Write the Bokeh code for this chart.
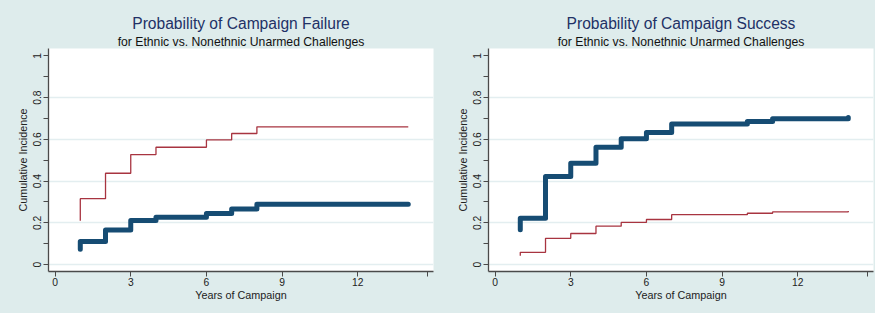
from bokeh.plotting import figure
from bokeh.layouts import row
from bokeh.models import FixedTicker, Title, Range1d
from bokeh.embed import file_html
from bokeh.resources import INLINE

# ---- data ----
years = [1, 1, 2, 3, 4, 5, 6, 7, 8, 9, 10, 11, 12, 13, 14]

failure_ethnic = [0.21, 0.316, 0.4375, 0.527, 0.562, 0.562, 0.597, 0.628, 0.660,
                  0.660, 0.660, 0.660, 0.660, 0.660, 0.660]
failure_nonethnic = [0.073, 0.111, 0.166, 0.211, 0.227, 0.227, 0.245, 0.266, 0.289,
                     0.289, 0.289, 0.289, 0.289, 0.289, 0.289]

success_ethnic = [0.043, 0.059, 0.126, 0.149, 0.184, 0.202, 0.216, 0.239, 0.239,
                  0.239, 0.246, 0.2525, 0.2525, 0.2525, 0.257]
success_nonethnic = [0.167, 0.222, 0.4225, 0.486, 0.562, 0.603, 0.633, 0.673, 0.673,
                     0.673, 0.685, 0.699, 0.699, 0.699, 0.705]

titles = ["Probability of Campaign Failure", "Probability of Campaign Success"]
subtitle = "for Ethnic vs. Nonethnic Unarmed Challenges"
x_label = "Years of Campaign"
y_label = "Cumulative Incidence"

x_ticks = [0, 3, 6, 9, 12, 14.75]
x_tick_labels = ["0", "3", "6", "9", "12", ""]
y_ticks = [0, 0.2, 0.4, 0.6, 0.8, 1]
y_minor = [0.1, 0.3, 0.5, 0.7, 0.9]
y_tick_labels = ["0", "0.2", "0.4", "0.6", "0.8", "1"]
grid_ticks = [0, 0.2, 0.4, 0.6, 0.8]

BG = "#deecec"
BLUE = "#164c73"
RED = "#a83440"
FONT = "Liberation Sans"
AX = "#4a4a4a"


def panel(title, red, blue, border_left, border_right):
    p = figure(frame_width=385, frame_height=223,
               min_border_left=border_left, min_border_right=border_right,
               min_border_top=48, min_border_bottom=42,
               x_range=Range1d(-0.26, 15.0), y_range=Range1d(-0.033, 1.035),
               output_backend="svg", toolbar_location=None, title=None)
    p.border_fill_color = BG
    p.background_fill_color = "white"
    p.outline_line_color = None

    p.add_layout(Title(text=subtitle, align="center", text_font=FONT,
                       text_font_size="12.2px", text_font_style="normal",
                       text_color="#111111", standoff=0), "above")
    p.add_layout(Title(text=title, align="center", text_font=FONT,
                       text_font_size="15.6px", text_font_style="normal",
                       text_color="#223166", standoff=2), "above")

    p.xgrid.visible = False
    p.ygrid.ticker = FixedTicker(ticks=grid_ticks)
    p.ygrid.grid_line_color = "#e3eef0"
    p.ygrid.grid_line_width = 1.3

    p.xaxis.ticker = FixedTicker(ticks=x_ticks)
    p.xaxis.major_label_overrides = dict(zip(x_ticks, x_tick_labels))
    p.yaxis.ticker = FixedTicker(ticks=y_ticks, minor_ticks=y_minor)
    p.yaxis.major_label_overrides = dict(zip(y_ticks, y_tick_labels))
    p.yaxis.major_label_orientation = "vertical"

    for ax in (p.xaxis, p.yaxis):
        ax.axis_line_color = AX
        ax.axis_line_width = 1.3
        ax.major_tick_line_color = AX
        ax.major_tick_out = 5
        ax.major_tick_in = 0
        ax.minor_tick_line_color = AX
        ax.minor_tick_out = 5
        ax.minor_tick_in = 0
        ax.major_label_text_font = FONT
        ax.major_label_text_font_size = "10.3px"
        ax.major_label_text_color = "#222222"
        ax.axis_label_text_font = FONT
        ax.axis_label_text_font_size = "10.8px"
        ax.axis_label_text_font_style = "normal"
        ax.axis_label_text_color = "#222222"
    p.xaxis.major_label_standoff = 1
    p.xaxis.axis_label_standoff = 0
    p.yaxis.major_label_standoff = 2
    p.yaxis.axis_label_standoff = 2
    p.xaxis.minor_tick_line_color = None
    p.xaxis.axis_label = x_label
    p.yaxis.axis_label = y_label

    p.step(years, red, mode="after", line_color=RED, line_width=1.3)
    p.step(years, blue, mode="after", line_color=BLUE, line_width=5,
           line_join="round", line_cap="round")
    return p


p1 = panel(titles[0], failure_ethnic, failure_nonethnic, 48, 4)
p2 = panel(titles[1], success_ethnic, success_nonethnic, 51, 2)

layout = row(p1, p2, spacing=0, styles={"background-color": BG})
open("out.html", "w").write(file_html(layout, INLINE))
